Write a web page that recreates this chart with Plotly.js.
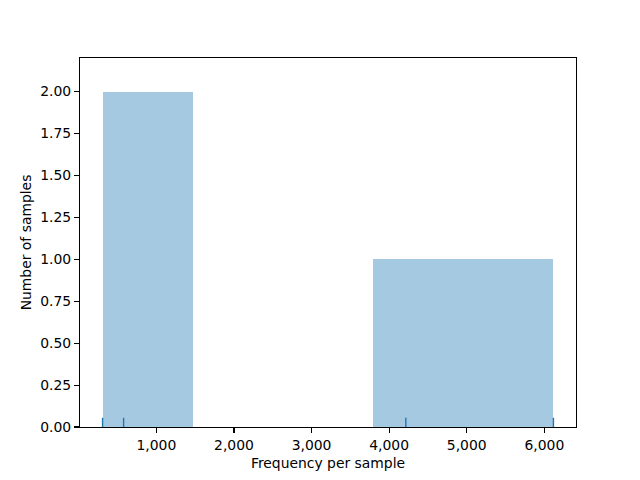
<!DOCTYPE html>
<html>
<head>
<meta charset="utf-8">
<script src="https://cdn.plot.ly/plotly-3.0.1.min.js"></script>
<style>html,body{margin:0;padding:0;background:#fff;}#chart{width:640px;height:480px;}</style>
</head>
<body>
<div id="chart"></div>
<script>
const samples = [307, 578, 4215, 6117];
// Histogram bin edges and counts
const binEdges = [307, 1469, 2631, 3793, 4955, 6117];
const counts = [2, 0, 0, 1, 1];
const yTicks = [0, 0.25, 0.5, 0.75, 1.0, 1.25, 1.5, 1.75, 2.0];
const xTicks = [1000, 2000, 3000, 4000, 5000, 6000];

const centers = [], widths = [];
for (let i = 0; i < counts.length; i++) {
  centers.push((binEdges[i] + binEdges[i + 1]) / 2);
  widths.push(binEdges[i + 1] - binEdges[i]);
}

const yMax = 2.2;
const rugH = 0.025 * yMax;
const rugX = [], rugY = [];
samples.forEach(s => { rugX.push(s, s, null); rugY.push(0, rugH, null); });

const font = {family: 'DejaVu Sans, sans-serif', size: 13.9, color: '#000'};

const data = [
  {type: 'bar', x: centers, y: counts, width: widths,
   marker: {color: 'rgba(31,119,180,0.4)', line: {width: 0}}, hoverinfo: 'skip'},
  {type: 'scatter', mode: 'lines', x: rugX, y: rugY,
   line: {color: '#1f77b4', width: 1.4}, hoverinfo: 'skip'}
];

const layout = {
  width: 640, height: 480,
  margin: {l: 80, r: 64, t: 58, b: 53, pad: 0},
  paper_bgcolor: '#fff', plot_bgcolor: '#fff',
  showlegend: false, bargap: 0,
  font: font,
  xaxis: {
    range: [16, 6408], tickvals: xTicks, tickformat: ',d',
    showgrid: false, zeroline: false, showline: true, mirror: true,
    linecolor: '#000', linewidth: 1.1, ticks: 'outside', ticklen: 4.9, tickwidth: 1.1, tickcolor: '#000',
    tickfont: font,
    title: {text: 'Frequency per sample', font: font, standoff: 6}
  },
  yaxis: {
    range: [0, yMax], tickvals: yTicks, tickformat: '.2f',
    showgrid: false, zeroline: false, showline: true, mirror: true,
    linecolor: '#000', linewidth: 1.1, ticks: 'outside', ticklen: 4.9, tickwidth: 1.1, tickcolor: '#000',
    tickfont: font,
    title: {text: 'Number of samples', font: font, standoff: 5}
  }
};

Plotly.newPlot('chart', data, layout, {staticPlot: true, displayModeBar: false});
</script>
</body>
</html>
